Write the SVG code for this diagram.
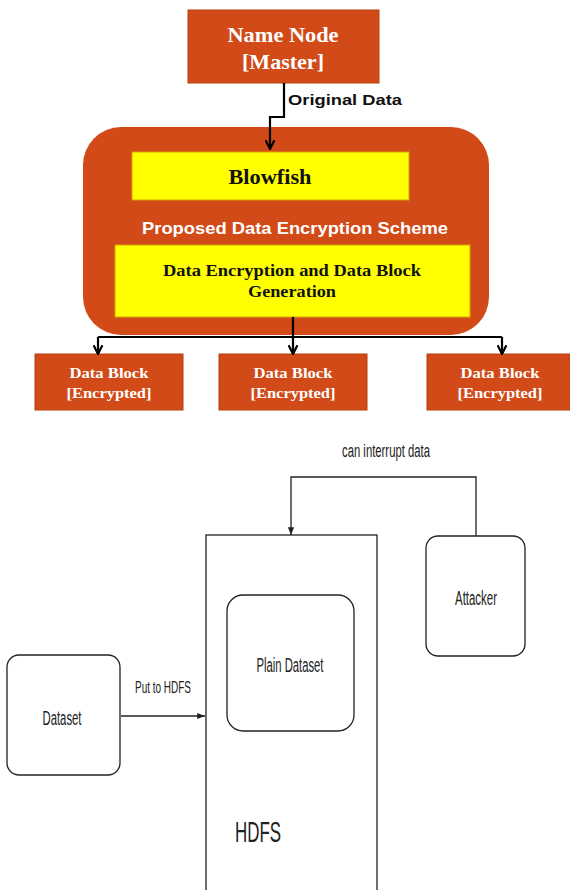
<svg xmlns="http://www.w3.org/2000/svg" width="570" height="890" viewBox="0 0 570 890">
<defs>
<style>
.org{fill:#D14A18;stroke:#B8410F;stroke-width:1}
.yel{fill:#FFFF00;stroke:#D9A300;stroke-width:1}
.wser{font-family:"Liberation Serif","Times New Roman",serif;font-weight:bold;fill:#FFFFFF;text-anchor:middle}
.bser{font-family:"Liberation Serif","Times New Roman",serif;font-weight:bold;fill:#111111;text-anchor:middle}
.sans{font-family:"Liberation Sans",Arial,sans-serif;fill:#222222;text-anchor:middle}
.box{fill:#FFFFFF;stroke:#222222;stroke-width:1.3}
.con{fill:none;stroke:#000000;stroke-width:2.2}
.con2{fill:none;stroke:#222222;stroke-width:1.3}
</style>
<marker id="ah" viewBox="0 0 10 10" refX="9" refY="5" markerWidth="5" markerHeight="5" orient="auto" markerUnits="strokeWidth">
<path d="M1,1 L9,5 L1,9" fill="none" stroke="#000" stroke-width="2"/>
</marker>
<marker id="ah2" viewBox="0 0 10 10" refX="10" refY="5" markerWidth="6" markerHeight="6" orient="auto" markerUnits="strokeWidth">
<path d="M0,1 L10,5 L0,9 Z" fill="#222"/>
</marker>
</defs>
<rect width="570" height="890" fill="#FFFFFF"/>

<g id="namenode">
<rect class="org" x="188" y="10" width="191" height="73"/>
<text class="wser" x="283" y="42" font-size="21" textLength="111" lengthAdjust="spacingAndGlyphs">Name Node</text>
<text class="wser" x="283" y="69" font-size="21" textLength="82" lengthAdjust="spacingAndGlyphs">[Master]</text>
</g>

<g id="scheme">
<rect x="83" y="127" width="406" height="208" rx="38" ry="38" fill="#D14A18"/>
<text x="295" y="234" font-family="Liberation Sans, Arial, sans-serif" font-weight="bold" font-size="17" fill="#FFFFFF" text-anchor="middle" textLength="306" lengthAdjust="spacingAndGlyphs">Proposed Data Encryption Scheme</text>
</g>

<g id="blowfish">
<rect class="yel" x="132" y="152" width="277" height="48"/>
<text class="bser" x="270" y="184" font-size="21" textLength="83" lengthAdjust="spacingAndGlyphs">Blowfish</text>
</g>

<g id="encryption">
<rect class="yel" x="115" y="245" width="355" height="72"/>
<text class="bser" x="292" y="276" font-size="16.5" textLength="258" lengthAdjust="spacingAndGlyphs">Data Encryption and Data Block</text>
<text class="bser" x="292" y="297" font-size="16.5" textLength="88" lengthAdjust="spacingAndGlyphs">Generation</text>
</g>

<g id="block1">
<rect class="org" x="35" y="354" width="148" height="56"/>
<text class="wser" x="109" y="378" font-size="15" textLength="79" lengthAdjust="spacingAndGlyphs">Data Block</text>
<text class="wser" x="109" y="398" font-size="15" textLength="85" lengthAdjust="spacingAndGlyphs">[Encrypted]</text>
</g>
<g id="block2">
<rect class="org" x="219" y="354" width="148" height="56"/>
<text class="wser" x="293" y="378" font-size="15" textLength="79" lengthAdjust="spacingAndGlyphs">Data Block</text>
<text class="wser" x="293" y="398" font-size="15" textLength="85" lengthAdjust="spacingAndGlyphs">[Encrypted]</text>
</g>
<g id="block3">
<rect class="org" x="427" y="354" width="143" height="56"/>
<text class="wser" x="500" y="378" font-size="15" textLength="79" lengthAdjust="spacingAndGlyphs">Data Block</text>
<text class="wser" x="500" y="398" font-size="15" textLength="85" lengthAdjust="spacingAndGlyphs">[Encrypted]</text>
</g>

<g id="hdfs">
<rect class="box" x="206" y="535" width="171" height="380"/>
<text x="235" y="842" font-family="Liberation Sans, Arial, sans-serif" font-size="30" fill="#222" textLength="46" lengthAdjust="spacingAndGlyphs">HDFS</text>
</g>

<g id="plaindataset">
<rect class="box" x="227" y="595" width="127" height="136" rx="16" ry="16"/>
<text class="sans" x="290" y="672" font-size="20" textLength="67" lengthAdjust="spacingAndGlyphs">Plain Dataset</text>
</g>

<g id="attacker">
<rect class="box" x="426" y="536" width="99" height="120" rx="12" ry="12"/>
<text class="sans" x="476" y="605" font-size="20" textLength="42" lengthAdjust="spacingAndGlyphs">Attacker</text>
</g>

<g id="dataset">
<rect class="box" x="7" y="655" width="113" height="120" rx="12" ry="12"/>
<text class="sans" x="62" y="725" font-size="20" textLength="39" lengthAdjust="spacingAndGlyphs">Dataset</text>
</g>

<g id="connectors">
<path class="con" d="M284,83 V117 H270 V149" marker-end="url(#ah)"/>
<path class="con" d="M293,317 V337"/>
<path class="con" d="M98,337 H502"/>
<path class="con" d="M98,337 V354" marker-end="url(#ah)"/>
<path class="con" d="M293,337 V354" marker-end="url(#ah)"/>
<path class="con" d="M502,337 V354" marker-end="url(#ah)"/>
<path class="con2" d="M476,536 V477 H291 V535" marker-end="url(#ah2)"/>
<path class="con2" d="M121,716 H205" marker-end="url(#ah2)"/>
<text x="288" y="105" font-family="Liberation Sans, Arial, sans-serif" font-weight="bold" font-size="15" fill="#111" textLength="114" lengthAdjust="spacingAndGlyphs">Original Data</text>
<text class="sans" x="386" y="457" font-size="18" textLength="88" lengthAdjust="spacingAndGlyphs">can interrupt data</text>
<text class="sans" x="163" y="693" font-size="16" textLength="56" lengthAdjust="spacingAndGlyphs">Put to HDFS</text>
</g>
</svg>
